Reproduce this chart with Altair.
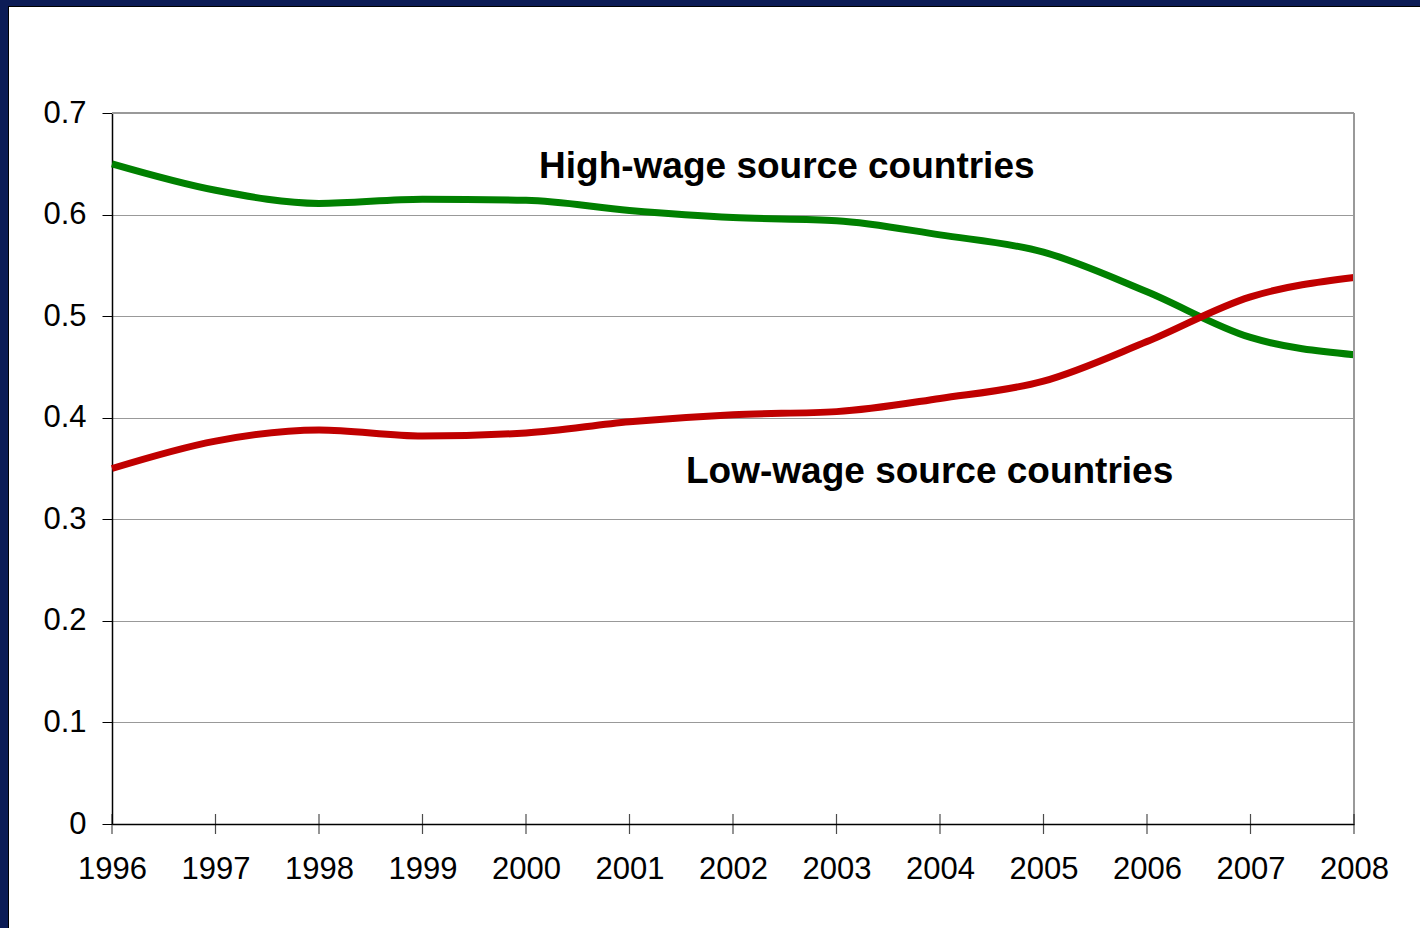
import altair as alt
import pandas as pd

years = list(range(1996, 2009))
high_wage = [0.650, 0.624, 0.611, 0.615, 0.614, 0.604, 0.597, 0.594, 0.580, 0.563, 0.524, 0.479, 0.462]
low_wage = [0.350, 0.377, 0.388, 0.382, 0.385, 0.396, 0.403, 0.406, 0.419, 0.436, 0.475, 0.519, 0.538]
series_names = ["High-wage source countries", "Low-wage source countries"]
series_colors = ["#008000", "#c00000"]
label_pos = [(2002.52, 0.647), (2003.9, 0.347)]
y_ticks = [0, 0.1, 0.2, 0.3, 0.4, 0.5, 0.6, 0.7]

rows = []
for name, vals in zip(series_names, [high_wage, low_wage]):
    for yr, v in zip(years, vals):
        rows.append({"year": yr, "value": v, "series": name})
df = pd.DataFrame(rows)

labels_df = pd.DataFrame({"year": [p[0] for p in label_pos],
                          "value": [p[1] for p in label_pos],
                          "text": series_names})
ticks_df = pd.DataFrame({"year": years, "value": [0] * len(years)})

FONT = "Liberation Sans"
NAVY = "#0c1c56"
W, H = 1242, 711

xscale = alt.Scale(domain=[1996, 2008], nice=False, zero=False)
yscale = alt.Scale(domain=[0, 0.7], nice=False)

one = pd.DataFrame({"a": [0]})
top_bar = alt.Chart(one).mark_rect(color=NAVY).encode(
    x=alt.value(-112), x2=alt.value(1308), y=alt.value(-113), y2=alt.value(-107)
)
top_edge = alt.Chart(one).mark_rule(color="black", strokeWidth=1).encode(
    x=alt.value(-104), x2=alt.value(1308), y=alt.value(-106.5)
)
left_bar = alt.Chart(one).mark_rect(color=NAVY).encode(
    x=alt.value(-112), x2=alt.value(-104), y=alt.value(-113), y2=alt.value(815)
)
left_edge = alt.Chart(one).mark_rule(color="black", strokeWidth=1).encode(
    x=alt.value(-103.5), y=alt.value(-107), y2=alt.value(815)
)

border_top = alt.Chart(one).mark_rule(color="#999999", strokeWidth=2).encode(
    x=alt.value(0), x2=alt.value(W), y=alt.value(0)
)
border_right = alt.Chart(one).mark_rule(color="#999999", strokeWidth=2).encode(
    x=alt.value(W), y=alt.value(0), y2=alt.value(H)
)

lines = alt.Chart(df).mark_line(interpolate="monotone", strokeWidth=7).encode(
    x=alt.X("year:Q", scale=xscale,
            axis=alt.Axis(values=years, format="d", title=None, grid=False, ticks=False,
                          labelFontSize=31, labelFont=FONT, labelColor="black", labelPadding=30,
                          labelFlush=False, labelOverlap=False,
                          domainColor="black", domainWidth=1.5)),
    y=alt.Y("value:Q", scale=yscale,
            axis=alt.Axis(values=y_ticks, title=None, grid=True, gridColor="#999999", gridWidth=1,
                          tickSize=10, tickColor="black", labelFontSize=31, labelFont=FONT,
                          labelColor="black", labelPadding=16, domainColor="black", domainWidth=1.5,
                          labelExpr="datum.value == 0 ? '0' : format(datum.value, '.1f')")),
    color=alt.Color("series:N", scale=alt.Scale(domain=series_names, range=series_colors), legend=None),
)

xticks = alt.Chart(ticks_df).mark_tick(orient="vertical", size=20, thickness=1.2, color="black").encode(
    x=alt.X("year:Q", scale=xscale), y=alt.Y("value:Q", scale=yscale)
)

texts = alt.Chart(labels_df).mark_text(font=FONT, fontSize=37, fontWeight="bold", color="black",
                                       align="center", baseline="middle").encode(
    x=alt.X("year:Q", scale=xscale), y=alt.Y("value:Q", scale=yscale), text="text:N"
)

chart = alt.layer(lines, top_bar, top_edge, left_bar, left_edge, border_top, border_right,
                  xticks, texts).properties(
    width=W, height=H,
    autosize=alt.AutoSizeParams(type="none"),
    padding={"left": 112, "top": 113, "right": 66, "bottom": 104},
    background="white",
).configure_view(stroke=None)

chart.save("out.html", embed_options={"renderer": "svg", "actions": False})
